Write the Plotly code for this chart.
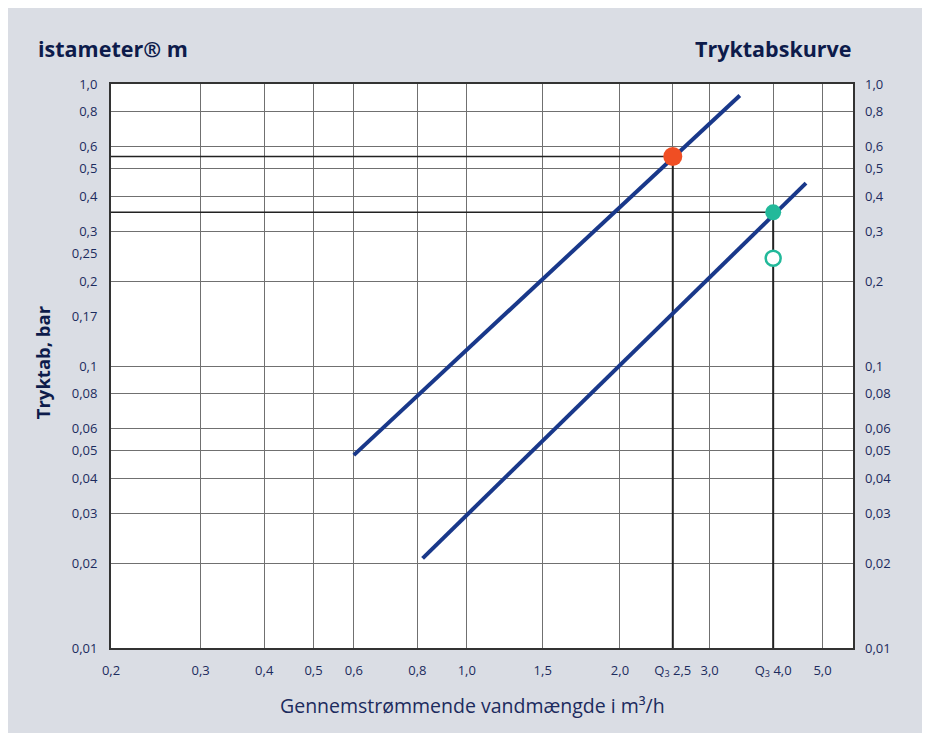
import math
import plotly.graph_objects as go

# ---- data ----
# tick positions / labels (x: flow m3/h, y: pressure loss bar)
x_tick_vals = [0.2, 0.3, 0.4, 0.5, 0.6, 0.8, 1.0, 1.41, 2.0, 2.54, 3.0, 4.0, 5.0]
x_tick_text = ["0,2", "0,3", "0,4", "0,5", "0,6", "0,8", "1,0", "1,5", "2,0",
               "Q<sub>3</sub> 2,5", "3,0", "Q<sub>3</sub> 4,0", "5,0"]
y_left_vals = [1.0, 0.8, 0.6, 0.5, 0.4, 0.3, 0.25, 0.2, 0.15, 0.1, 0.08, 0.06,
               0.05, 0.04, 0.03, 0.02, 0.01]
y_left_text = ["1,0", "0,8", "0,6", "0,5", "0,4", "0,3", "0,25", "0,2", "0,17",
               "0,1", "0,08", "0,06", "0,05", "0,04", "0,03", "0,02", "0,01"]
y_right_vals = [1.0, 0.8, 0.6, 0.5, 0.4, 0.3, 0.2, 0.1, 0.08, 0.06, 0.05, 0.04,
                0.03, 0.02, 0.01]
y_right_text = ["1,0", "0,8", "0,6", "0,5", "0,4", "0,3", "0,2", "0,1", "0,08",
                "0,06", "0,05", "0,04", "0,03", "0,02", "0,01"]

# pressure-loss curves
curve_q25_flow = [0.6, 3.44]
curve_q25_loss = [0.0483, 0.911]
curve_q40_flow = [0.819, 4.64]
curve_q40_loss = [0.0208, 0.445]

# Q3 points
q3_flow = [2.54, 4.0]
q3_loss = [0.5535, 0.3507]
q40_alt_flow = [4.0]
q40_alt_loss = [0.241]

x_min, x_max = 0.2, 5.74
y_min, y_max = 0.01, 1.0

NAVY_TXT = "#1c2b5e"
TITLE = "#0d1b4b"
CURVE = "#19388a"
RED = "#f04e23"
TEAL = "#22b99a"
BG = "#dadde4"
FONT = "Open Sans"

fig = go.Figure()

# reference (drop) lines from the Q3 points
for qx, qy in zip(q3_flow, q3_loss):
    fig.add_trace(go.Scatter(x=[x_min, qx], y=[qy, qy], mode="lines",
                             line=dict(color="#222222", width=1.5),
                             hoverinfo="skip", showlegend=False))
    fig.add_trace(go.Scatter(x=[qx, qx], y=[qy, y_min], mode="lines",
                             line=dict(color="#222222", width=2),
                             hoverinfo="skip", showlegend=False))

for fx, fy in [(curve_q25_flow, curve_q25_loss), (curve_q40_flow, curve_q40_loss)]:
    fig.add_trace(go.Scatter(x=fx, y=fy, mode="lines",
                             line=dict(color=CURVE, width=4),
                             showlegend=False))

fig.add_trace(go.Scatter(x=q3_flow[:1], y=q3_loss[:1], mode="markers",
                         marker=dict(color=RED, size=19), showlegend=False))
fig.add_trace(go.Scatter(x=q3_flow[1:], y=q3_loss[1:], mode="markers",
                         marker=dict(color=TEAL, size=16), showlegend=False))
fig.add_trace(go.Scatter(x=q40_alt_flow, y=q40_alt_loss, mode="markers",
                         marker=dict(color="white", size=15,
                                     line=dict(color=TEAL, width=2.5)),
                         showlegend=False))
# helper trace so the right axis is drawn
fig.add_trace(go.Scatter(x=[], y=[], yaxis="y2", showlegend=False))

lx0, lx1 = math.log10(x_min), math.log10(x_max)
ly0, ly1 = math.log10(y_min), math.log10(y_max)

W, H = 940, 745
OFF = 8  # page body margin
ml, mt = 103, 75.5
mr = W - (853 - OFF)
mb = H - (648 - OFF)
pw, ph = W - ml - mr, H - mt - mb


def px(x):
    return (x - OFF - ml) / pw


def py(y):
    return (H - mb - (y - OFF)) / ph


tick_font = dict(family=FONT, size=13, color=NAVY_TXT)

fig.update_layout(
    width=W, height=H,
    margin=dict(l=ml, r=mr, t=mt, b=mb),
    paper_bgcolor=BG,
    plot_bgcolor="white",
    xaxis=dict(type="log", range=[lx0, lx1], tickvals=x_tick_vals,
               ticktext=x_tick_text, tickfont=tick_font, showgrid=True,
               gridcolor="#707070", gridwidth=1.3, showline=True, mirror=True,
               linecolor="#333333", linewidth=2, ticks="", zeroline=False,
               ticklabelstandoff=9),
    yaxis=dict(type="log", range=[ly0, ly1], tickvals=y_left_vals,
               ticktext=y_left_text, tickfont=tick_font, showgrid=False,
               showline=True, mirror=True, linecolor="#333333", linewidth=2,
               ticks="", zeroline=False, ticklabelstandoff=9),
    yaxis2=dict(type="log", range=[ly0, ly1], overlaying="y", side="right",
                anchor="x", tickvals=y_right_vals, ticktext=y_right_text,
                tickfont=tick_font, showgrid=True, gridcolor="#707070",
                gridwidth=1.3, ticks="", zeroline=False, showline=False,
                ticklabelstandoff=11),
    annotations=[
        dict(text="<b>istameter® m</b>", xref="paper", yref="paper",
             x=px(36), y=py(48), xanchor="left", yanchor="middle",
             showarrow=False, font=dict(family=FONT, size=21.5, color=TITLE)),
        dict(text="<b>Tryktabskurve</b>", xref="paper", yref="paper",
             x=px(854), y=py(48), xanchor="right", yanchor="middle",
             showarrow=False, font=dict(family=FONT, size=21.5, color=TITLE)),
        dict(text="<b>Tryktab, bar</b>", xref="paper", yref="paper",
             x=px(42), y=py(362), xanchor="center", yanchor="middle",
             textangle=-90, showarrow=False,
             font=dict(family=FONT, size=18.5, color=TITLE)),
        dict(text="Gennemstrømmende vandmængde i m³/h", xref="paper",
             yref="paper", x=px(472), y=py(706), xanchor="center",
             yanchor="middle", showarrow=False,
             font=dict(family=FONT, size=19.5, color=NAVY_TXT)),
    ],
)

fig.write_html("out.html")
